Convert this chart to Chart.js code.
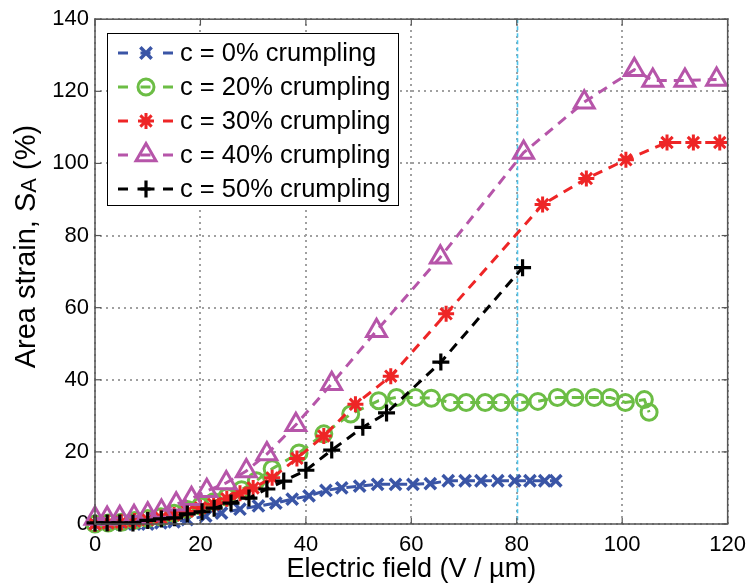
<!DOCTYPE html>
<html>
<head>
<meta charset="utf-8">
<script src="https://cdn.jsdelivr.net/npm/chart.js@4.4.1/dist/chart.umd.min.js"></script>
<style>
html,body{margin:0;padding:0;background:#fff;}
#wrap{width:754px;height:584px;position:relative;}
</style>
</head>
<body>
<div id="wrap"><canvas id="c" width="754" height="584"></canvas></div>
<script>
// ---------- data ----------
const seriesLabels = ['c = 0% crumpling','c = 20% crumpling','c = 30% crumpling','c = 40% crumpling','c = 50% crumpling'];

const x0 = [0, 2.5, 5, 7.5, 10, 12.5, 15, 17.5, 21, 24, 27.5, 31, 34.3, 37.4, 40.6, 43.8, 46.8, 50.2, 53.6, 57, 60.3, 63.6, 67, 70.2, 73.2, 76.4, 79.6, 82.5, 85.3, 87.4];
const y0 = [0, 0, 0, 0, 0, 0.3, 0.6, 1.2, 2.2, 3, 4.1, 5, 5.8, 6.9, 7.8, 9.3, 10, 10.5, 11, 11, 11, 11.2, 12, 12, 12, 12, 12, 12, 12, 12];

const x20 = [0, 2.5, 5, 7.5, 10, 12.5, 15, 17.5, 20, 22.5, 25, 27.8, 30.6, 33.6, 38.7, 43.4, 48.5, 53.8, 57.2, 60.8, 63.8, 67.4, 70.4, 74, 77, 80.6, 84, 87.7, 91, 94.7, 97.7, 100.6, 104.2, 105.1];
const y20 = [0, 0.3, 0.5, 1, 1.5, 2, 3, 4, 5, 6.2, 7.5, 9.5, 12, 15.3, 19.7, 25, 30.5, 34.2, 35.1, 35.1, 34.9, 33.7, 33.7, 33.7, 33.7, 33.7, 34, 35.1, 35.1, 35.1, 35.1, 33.7, 34.5, 31];

const x30 = [0, 2.5, 5, 7.5, 10, 12.5, 15, 17.5, 20, 22.5, 25, 27.5, 30, 33.6, 38.3, 43.4, 49.4, 56.1, 66.6, 84.9, 93.2, 100.7, 108.5, 113.5, 118.5];
const y30 = [0, 0.3, 0.5, 0.8, 1.2, 1.7, 2.5, 3.5, 4.5, 5.5, 7, 8.5, 10, 12.8, 18.2, 24.4, 33.2, 41, 58.3, 88.6, 95.8, 101, 105.8, 105.8, 105.8];

const x40 = [0, 2.3, 4.7, 7.4, 10, 12.6, 15.4, 18.3, 21.2, 24.9, 28.7, 32.6, 38.1, 44.9, 53.4, 65.5, 81.3, 92.8, 102.3, 105.8, 111.9, 117.9];
const y40 = [1.5, 1.5, 1.7, 2, 2.7, 3.5, 5.5, 7, 9.2, 11.4, 14.7, 19.4, 27.5, 38.9, 53.6, 74, 103, 117, 126, 123, 123, 123.3];

const x50 = [0, 2.3, 4.7, 7.2, 10, 12.6, 15.1, 17.5, 20.3, 22.6, 25.8, 29.2, 32.6, 35.8, 40, 44.9, 50.8, 55.3, 65.6, 81.1];
const y50 = [0.3, 0.3, 0.3, 0.3, 1, 1.4, 1.7, 2.8, 3.4, 4.4, 5.8, 7.2, 9.7, 11.9, 14.9, 20.5, 26.8, 30.8, 44.9, 71.1];

const xTicks = [0, 20, 40, 60, 80, 100, 120];
const yTicks = [0, 20, 40, 60, 80, 100, 120, 140];
const highlightX = 80;

// ---------- styles ----------
const colors = ['#3a55a6', '#6cbd45', '#ee2526', '#b655a9', '#000000'];
const styles = ['crossRot', 'circle', 'star', 'triangle', 'cross'];
const radii = [8, 8, 8, 11.5, 8.5];
const widths = [3.5, 3, 3, 3, 3.2];
const orders = [4, 3, 2, 1, 0];

function pts(xs, ys){ return xs.map((v,i)=>({x:v, y:ys[i]})); }
const allData = [pts(x0,y0), pts(x20,y20), pts(x30,y30), pts(x40,y40), pts(x50,y50)];

const datasets = allData.map((d,i)=>({
  label: seriesLabels[i],
  data: d,
  showLine: true,
  borderColor: colors[i],
  backgroundColor: 'rgba(0,0,0,0)',
  borderWidth: 3,
  borderDash: [10, 7],
  pointStyle: styles[i],
  pointRadius: radii[i],
  pointBorderWidth: widths[i],
  pointBorderColor: colors[i],
  pointBackgroundColor: 'rgba(0,0,0,0)',
  order: orders[i],
  clip: false
}));

const FONT = '"Liberation Sans", Arial, Helvetica, sans-serif';

function dottedV(ctx, x, y1, y2){
  x = Math.round(x);
  for (let y = Math.round(y1); y <= y2; y += 6) ctx.fillRect(x - 1, y - 1, 2, 2);
}
function dottedH(ctx, y, x1, x2){
  y = Math.round(y);
  for (let x = Math.round(x1); x <= x2; x += 6) ctx.fillRect(x - 1, y - 1, 2, 2);
}

const framePlugin = {
  id: 'frame',
  beforeDatasetsDraw(chart){
    const {ctx, chartArea:a, scales} = chart;
    ctx.save();
    // dotted grid at the scale ticks
    ctx.fillStyle = '#a0a0a0';
    xTicks.forEach(v=>{
      dottedV(ctx, scales.x.getPixelForValue(v), a.top, a.bottom);
    });
    yTicks.forEach(v=>{
      dottedH(ctx, scales.y.getPixelForValue(v), a.left, a.right);
    });
    const px = Math.round(scales.x.getPixelForValue(highlightX)) + 0.5;
    ctx.strokeStyle = '#4cc3ea';
    ctx.lineWidth = 1.6;
    ctx.setLineDash([4, 3]);
    ctx.beginPath(); ctx.moveTo(px, a.top); ctx.lineTo(px, a.bottom); ctx.stroke();
    ctx.restore();
  },
  afterDraw(chart){
    const {ctx, chartArea:a, scales} = chart;
    ctx.save();
    // frame
    ctx.strokeStyle = '#555';
    ctx.lineWidth = 1.5;
    ctx.setLineDash([]);
    ctx.strokeRect(a.left, a.top, a.right - a.left, a.bottom - a.top);
    // inner ticks
    ctx.lineWidth = 1.2;
    const tl = 6;
    xTicks.forEach(v=>{
      const p = scales.x.getPixelForValue(v);
      ctx.beginPath(); ctx.moveTo(p, a.bottom); ctx.lineTo(p, a.bottom - tl); ctx.stroke();
      ctx.beginPath(); ctx.moveTo(p, a.top); ctx.lineTo(p, a.top + tl); ctx.stroke();
    });
    yTicks.forEach(v=>{
      const p = scales.y.getPixelForValue(v);
      ctx.beginPath(); ctx.moveTo(a.left, p); ctx.lineTo(a.left + tl, p); ctx.stroke();
      ctx.beginPath(); ctx.moveTo(a.right, p); ctx.lineTo(a.right - tl, p); ctx.stroke();
    });

    // y title with subscript
    const cy = (a.top + a.bottom) / 2 - 25;
    ctx.translate(27, cy);
    ctx.rotate(-Math.PI/2);
    ctx.fillStyle = '#000';
    ctx.textBaseline = 'middle';
    const big = '29px ' + FONT, small = '22px ' + FONT;
    const parts = [['Area strain, S', big, 0], ['A', small, 3], [' (%)', big, 0]];
    let total = 0;
    parts.forEach(p=>{ ctx.font = p[1]; total += ctx.measureText(p[0]).width; });
    let xx = -total/2;
    ctx.textAlign = 'left';
    parts.forEach(p=>{ ctx.font = p[1]; ctx.fillText(p[0], xx, p[2]); xx += ctx.measureText(p[0]).width; });
    ctx.setTransform(1,0,0,1,0,0);

    // legend
    const lx = 107, ly = 33, lw = 291, lh = 172;
    ctx.fillStyle = '#fff';
    ctx.fillRect(lx, ly, lw, lh);
    ctx.strokeStyle = '#000';
    ctx.lineWidth = 1;
    ctx.strokeRect(lx + 0.5, ly + 0.5, lw, lh);
    const rowH = 34;
    chart.data.datasets.forEach((ds, i)=>{
      const yy = ly + 20 + i * rowH;
      ctx.strokeStyle = ds.borderColor;
      ctx.lineWidth = 3;
      ctx.setLineDash([10, 12.5]);
      ctx.beginPath(); ctx.moveTo(118, yy); ctx.lineTo(173, yy); ctx.stroke();
      ctx.setLineDash([]);
      ctx.lineWidth = ds.pointBorderWidth;
      ctx.strokeStyle = ds.pointBorderColor;
      ctx.fillStyle = 'rgba(0,0,0,0)';
      Chart.helpers.drawPoint(ctx, {pointStyle: ds.pointStyle, radius: ds.pointRadius, rotation: 0, borderWidth: ds.pointBorderWidth}, 146, yy);
      ctx.fillStyle = '#000';
      ctx.font = '25.5px ' + FONT;
      ctx.textAlign = 'left';
      ctx.textBaseline = 'middle';
      ctx.fillText(ds.label, 180, yy + 1);
    });
    ctx.restore();
  }
};

new Chart(document.getElementById('c'), {
  type: 'scatter',
  data: { datasets },
  options: {
    responsive: false,
    animation: false,
    layout: { padding: { top: 19, right: 23, bottom: 0, left: 0 } },
    plugins: { legend: { display: false }, tooltip: { enabled: false } },
    scales: {
      x: {
        type: 'linear', min: 0, max: 120,
        afterBuildTicks: s => { s.ticks = xTicks.map(v=>({value:v})); },
        afterFit: s => { s.height = 60; },
        ticks: { font: { family: FONT, size: 22 }, color: '#000', padding: 8, maxRotation: 0 },
        grid: { display: false, drawTicks: false },
        border: { display: false },
        title: { display: true, text: 'Electric field (V / µm)', font: { family: FONT, size: 27 }, color: '#000', padding: { top: 0, bottom: -2 } }
      },
      y: {
        type: 'linear', min: 0, max: 140,
        afterBuildTicks: s => { s.ticks = yTicks.map(v=>({value:v})); },
        afterFit: s => { s.width = 95; },
        ticks: { font: { family: FONT, size: 22 }, color: '#000', padding: 6 },
        grid: { display: false, drawTicks: false },
        border: { display: false }
      }
    }
  },
  plugins: [framePlugin]
});
</script>
</body>
</html>
